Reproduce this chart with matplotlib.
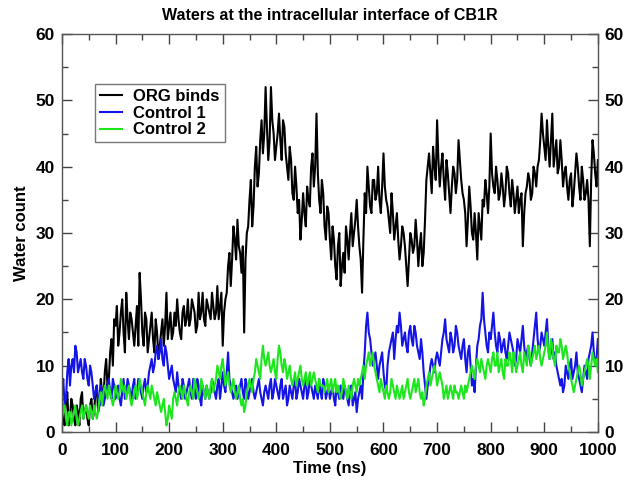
import numpy as np
import matplotlib
matplotlib.use("Agg")
import matplotlib.pyplot as plt
from matplotlib.ticker import MultipleLocator

org_binds = [
    4, 3, 1, 5, 6, 1, 2, 5, 4, 2, 1, 4, 3, 1, 5, 6, 2, 3, 4, 2, 1, 4, 5, 2, 3, 6, 7, 3, 4, 8, 6, 5, 9, 11, 7, 8, 12, 14, 10, 17,
    16, 19, 13, 15, 18, 20, 15, 12, 21, 17, 14, 18, 17, 15, 13, 16, 19, 13, 24, 20, 15, 13, 18, 17, 12, 14, 16, 18, 14, 12, 17, 15, 11, 13, 15, 17, 13, 16, 21, 14,
    16, 18, 14, 15, 18, 16, 20, 17, 15, 14, 18, 19, 16, 17, 20, 16, 17, 20, 19, 18, 15, 16, 21, 17, 18, 21, 17, 16, 20, 19, 18, 17, 21, 19, 17, 18, 22, 17, 19, 21,
    13, 18, 20, 21, 25, 27, 22, 26, 31, 29, 26, 32, 28, 27, 24, 28, 15, 26, 30, 31, 35, 38, 31, 34, 40, 43, 37, 39, 44, 47, 42, 45, 52, 46, 41, 44, 52, 47, 45, 41,
    43, 45, 48, 44, 41, 47, 46, 42, 40, 38, 43, 41, 36, 35, 40, 37, 33, 35, 29, 32, 36, 33, 31, 37, 35, 34, 40, 42, 37, 40, 48, 39, 35, 33, 38, 36, 31, 29, 34, 33,
    29, 26, 31, 29, 25, 23, 28, 30, 22, 25, 27, 24, 31, 29, 26, 30, 33, 28, 30, 32, 35, 31, 28, 26, 21, 29, 36, 33, 40, 37, 34, 33, 38, 38, 35, 36, 40, 35, 33, 37,
    42, 37, 35, 34, 32, 30, 36, 33, 29, 31, 33, 29, 26, 28, 31, 30, 28, 25, 22, 26, 30, 29, 27, 28, 32, 29, 25, 28, 30, 25, 27, 32, 38, 40, 42, 39, 36, 43, 40, 38,
    47, 41, 37, 40, 42, 38, 35, 41, 39, 36, 33, 37, 40, 39, 36, 38, 44, 41, 38, 36, 35, 33, 28, 32, 37, 34, 30, 29, 33, 30, 26, 33, 31, 29, 35, 34, 38, 36, 33, 37,
    45, 39, 37, 36, 40, 38, 35, 36, 39, 37, 34, 36, 40, 39, 36, 34, 38, 36, 33, 35, 37, 33, 35, 36, 28, 33, 36, 37, 39, 38, 35, 36, 40, 39, 37, 40, 41, 44, 48, 45,
    43, 41, 47, 43, 40, 44, 48, 40, 42, 44, 39, 40, 44, 41, 37, 39, 40, 37, 35, 38, 39, 34, 36, 39, 42, 40, 37, 35, 40, 38, 35, 36, 38, 35, 28, 38, 44, 42, 39, 37,
    41]

control1 = [
    6, 8, 4, 5, 9, 11, 7, 10, 11, 9, 13, 12, 9, 10, 11, 9, 8, 11, 10, 8, 7, 10, 9, 7, 5, 6, 7, 5, 4, 7, 6, 4, 5, 6, 7, 8, 6, 5, 8, 7,
    5, 6, 7, 5, 4, 6, 8, 5, 6, 8, 7, 6, 5, 7, 8, 5, 6, 8, 7, 6, 5, 7, 8, 6, 7, 9, 10, 11, 9, 10, 12, 13, 11, 12, 14, 11, 10, 13, 12, 10,
    8, 9, 10, 8, 7, 6, 9, 7, 6, 5, 8, 7, 5, 6, 7, 8, 6, 5, 8, 6, 5, 8, 7, 5, 4, 7, 6, 5, 7, 6, 5, 6, 8, 7, 6, 5, 7, 8, 5, 7,
    9, 7, 6, 9, 12, 8, 7, 6, 5, 6, 7, 5, 6, 7, 8, 6, 5, 8, 7, 5, 6, 7, 8, 6, 5, 6, 7, 8, 6, 5, 4, 6, 7, 6, 5, 7, 8, 5, 6, 8,
    7, 6, 5, 7, 8, 5, 6, 7, 4, 5, 7, 6, 5, 7, 8, 5, 6, 8, 7, 6, 5, 7, 8, 5, 6, 8, 7, 6, 5, 7, 6, 5, 8, 6, 5, 8, 7, 5, 6, 7,
    5, 6, 7, 5, 4, 7, 6, 5, 7, 6, 5, 7, 6, 5, 4, 6, 7, 4, 5, 6, 3, 5, 6, 7, 5, 9, 12, 16, 18, 15, 14, 12, 10, 11, 12, 10, 8, 10, 11, 12,
    9, 7, 6, 10, 12, 13, 14, 15, 11, 14, 16, 15, 18, 16, 13, 14, 15, 13, 12, 15, 16, 14, 13, 16, 15, 13, 12, 11, 14, 12, 9, 7, 5, 7, 8, 10, 11, 10, 9, 11,
    12, 11, 10, 12, 14, 15, 17, 14, 13, 12, 15, 14, 12, 13, 16, 15, 13, 12, 11, 13, 14, 11, 9, 12, 13, 10, 7, 8, 6, 10, 13, 14, 16, 17, 21, 17, 15, 13, 12, 15,
    14, 16, 18, 15, 13, 12, 15, 14, 12, 13, 14, 12, 11, 13, 15, 14, 13, 12, 10, 11, 14, 13, 12, 14, 16, 13, 11, 12, 13, 11, 10, 12, 14, 16, 18, 14, 12, 13, 15, 14,
    13, 15, 17, 13, 11, 12, 14, 11, 12, 10, 9, 8, 7, 8, 6, 7, 10, 9, 8, 10, 11, 8, 9, 10, 12, 9, 8, 7, 6, 8, 10, 9, 8, 11, 12, 13, 15, 12, 10, 11,
    14]

control2 = [
    2, 3, 4, 2, 1, 3, 3, 1, 2, 3, 4, 2, 1, 2, 3, 4, 2, 3, 4, 3, 2, 4, 3, 2, 4, 3, 2, 3, 5, 6, 4, 6, 7, 6, 5, 7, 6, 5, 4, 5,
    7, 6, 5, 6, 8, 7, 6, 7, 5, 6, 7, 5, 4, 5, 6, 7, 5, 6, 8, 7, 6, 5, 4, 6, 7, 6, 5, 7, 6, 5, 4, 6, 5, 4, 3, 4, 5, 3, 1, 2,
    4, 3, 2, 5, 6, 5, 4, 6, 7, 6, 5, 7, 6, 5, 4, 6, 7, 6, 5, 8, 7, 6, 5, 6, 8, 7, 6, 5, 7, 6, 5, 7, 8, 6, 7, 8, 10, 9, 8, 10,
    11, 9, 7, 8, 9, 7, 6, 7, 8, 6, 5, 6, 7, 5, 4, 5, 3, 4, 6, 7, 8, 7, 6, 8, 9, 11, 10, 9, 8, 11, 13, 11, 10, 11, 12, 10, 9, 10, 11, 9,
    8, 11, 13, 12, 10, 9, 11, 10, 8, 9, 10, 8, 7, 8, 9, 7, 8, 9, 10, 8, 7, 8, 9, 7, 8, 9, 7, 8, 9, 8, 7, 6, 8, 7, 7, 7, 6, 7, 8, 6,
    7, 8, 6, 7, 8, 6, 7, 6, 5, 6, 8, 7, 6, 5, 7, 6, 5, 7, 8, 7, 6, 8, 7, 8, 9, 10, 8, 10, 11, 12, 10, 11, 12, 10, 9, 8, 7, 6, 8, 7,
    6, 5, 7, 6, 5, 6, 8, 7, 6, 5, 7, 6, 5, 6, 7, 5, 6, 7, 8, 6, 5, 6, 7, 8, 6, 7, 8, 6, 5, 6, 4, 5, 7, 8, 9, 7, 8, 9, 10, 9,
    7, 8, 9, 8, 7, 5, 6, 7, 5, 6, 7, 6, 5, 7, 6, 6, 5, 6, 7, 6, 5, 7, 6, 7, 8, 9, 10, 9, 8, 10, 11, 10, 9, 11, 10, 9, 8, 10, 11, 10,
    9, 11, 12, 10, 10, 12, 9, 10, 11, 9, 8, 11, 10, 10, 12, 11, 9, 12, 11, 9, 10, 11, 12, 10, 9, 12, 11, 10, 13, 12, 10, 11, 12, 13, 11, 12, 13, 11, 10, 11,
    12, 13, 15, 12, 11, 14, 13, 11, 10, 13, 12, 12, 14, 13, 11, 12, 13, 12, 10, 9, 8, 7, 6, 7, 8, 9, 10, 9, 7, 8, 9, 10, 11, 10, 8, 10, 12, 11, 10, 11,
    9]

labels = ["ORG binds", "Control 1", "Control 2"]
colors = ["black", "#1414e6", "#1ee61e"]
step_ns = 2.5

plt.rcParams['font.family'] = ['Liberation Sans', 'DejaVu Sans']
plt.rcParams['font.weight'] = 'bold'

fig = plt.figure(figsize=(6.32, 4.9), dpi=100)
ax = fig.add_axes([0.098, 0.1184, 0.848, 0.8122])

for vals, lab, col in zip([org_binds, control1, control2], labels, colors):
    t = np.arange(len(vals)) * step_ns
    ax.plot(t, vals, color=col, lw=1.5, label=lab)

ax.set_xlim(0, 1000)
ax.set_ylim(0, 60)
ax.xaxis.set_major_locator(MultipleLocator(100))
ax.xaxis.set_minor_locator(MultipleLocator(50))
ax.yaxis.set_major_locator(MultipleLocator(10))
ax.yaxis.set_minor_locator(MultipleLocator(5))
ax.tick_params(which='both', direction='in', top=True, right=True,
               labelright=True, color='#444444', width=1)
ax.tick_params(which='major', length=7, labelsize=12.5)
ax.tick_params(axis='x', which='major', pad=8)
ax.tick_params(axis='y', which='major', pad=5)
ax.tick_params(which='minor', length=4)
for lbl in ax.get_xticklabels() + ax.get_yticklabels():
    lbl.set_fontweight('bold')
for s in ax.spines.values():
    s.set_color('#555555')
    s.set_linewidth(1)

ax.set_xlabel("Time (ns)", fontsize=12, fontweight='bold', labelpad=2)
ax.set_ylabel("Water count", fontsize=12, fontweight='bold', labelpad=5)
ax.set_title("Waters at the intracellular interface of CB1R", fontsize=11.5,
             fontweight='bold', pad=10)

leg = ax.legend(loc='upper left', bbox_to_anchor=(0.0616, 0.874), borderaxespad=0,
                frameon=True, fancybox=False, handlelength=1.3, handletextpad=0.7,
                borderpad=0.3, labelspacing=0.1, prop={'size': 12, 'weight': 'bold'})
leg.get_frame().set_edgecolor('#555555')
leg.get_frame().set_linewidth(1)

fig.savefig("out.png", dpi=100)
